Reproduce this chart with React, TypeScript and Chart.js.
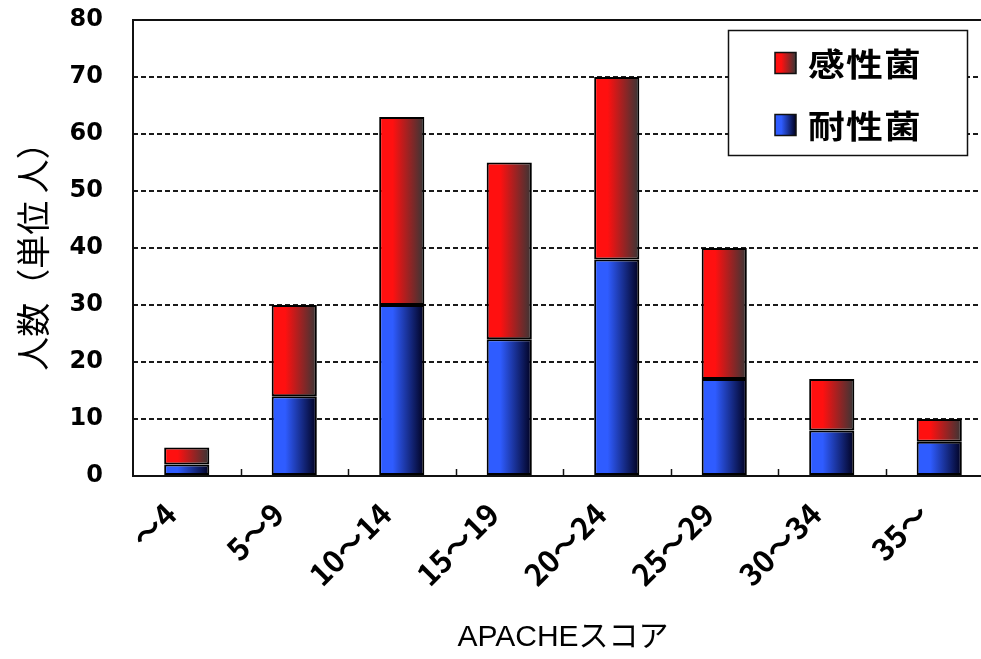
import React, { useEffect, useRef } from "react";
import { Chart, registerables } from "chart.js";

Chart.register(...registerables);

const categories = ["～4", "5～9", "10～14", "15～19", "20～24", "25～29", "30～34", "35～"];
const resistant = [2, 14, 30, 24, 38, 17, 8, 6]; // 耐性菌
const sensitive = [3, 16, 33, 31, 32, 23, 9, 4]; // 感性菌
const yTicks = [0, 10, 20, 30, 40, 50, 60, 70, 80];
const seriesNames = { sensitive: "感性菌", resistant: "耐性菌" };
const yTitle = "人数（単位 人）";
const xTitle = "APACHEスコア";

const BAR_PCT = 0.42;
const RED = ["#ff1010", "#363636"];
const BLUE = ["#2f5cff", "#00001e"];

function gradFor(colors: string[]) {
  return (ctx: any) => {
    const chart = ctx.chart;
    const xs = chart.scales && chart.scales.x;
    if (!xs || ctx.type !== "data" || !isFinite(xs.width)) return colors[0];
    const cx = xs.getPixelForValue(ctx.dataIndex);
    const w = (xs.width / categories.length) * BAR_PCT;
    const g = chart.ctx.createLinearGradient(cx - w / 2, 0, cx + w / 2, 0);
    g.addColorStop(0, colors[0]);
    g.addColorStop(0.3, colors[0]);
    g.addColorStop(1, colors[1]);
    return g;
  };
}

const framePlugin = {
  id: "frameAndLegend",
  afterDraw(chart: any) {
    const { ctx, chartArea } = chart;
    const { left, top, bottom } = chartArea;
    const W = chart.width;
    ctx.save();
    ctx.strokeStyle = "#111";
    ctx.lineWidth = 2;
    ctx.setLineDash([]);
    ctx.beginPath();
    ctx.moveTo(W, top);
    ctx.lineTo(left, top);
    ctx.lineTo(left, bottom);
    ctx.lineTo(W, bottom);
    ctx.stroke();
    const xs = chart.scales.x;
    ctx.lineWidth = 1.5;
    for (let i = 1; i < categories.length; i++) {
      const x = Math.round((xs.getPixelForValue(i - 1) + xs.getPixelForValue(i)) / 2) + 0.5;
      ctx.beginPath();
      ctx.moveTo(x, bottom);
      ctx.lineTo(x, bottom - 7);
      ctx.stroke();
    }
    // legend
    const lx = 728, ly = 30, lw = 239, lh = 125;
    ctx.fillStyle = "#fff";
    ctx.fillRect(lx, ly, lw, lh);
    ctx.strokeStyle = "#111";
    ctx.lineWidth = 1.5;
    ctx.strokeRect(lx + 0.5, ly + 0.5, lw, lh);
    const items = [
      { text: seriesNames.sensitive, colors: RED, cy: 63 },
      { text: seriesNames.resistant, colors: BLUE, cy: 125 },
    ];
    for (const it of items) {
      const sx = 775, sz = 21;
      const g = ctx.createLinearGradient(sx, 0, sx + sz, 0);
      g.addColorStop(0, it.colors[0]);
      g.addColorStop(0.3, it.colors[0]);
      g.addColorStop(1, it.colors[1]);
      ctx.fillStyle = g;
      ctx.fillRect(sx, it.cy - sz / 2, sz, sz);
      ctx.strokeStyle = "#111";
      ctx.lineWidth = 1.5;
      ctx.strokeRect(sx, it.cy - sz / 2, sz, sz);
      ctx.save();
      ctx.translate(808, it.cy + 1);
      ctx.scale(1.15, 1);
      ctx.fillStyle = "#000";
      ctx.font = "bold 32px 'Noto Sans CJK JP'";
      (ctx as any).letterSpacing = "1px";
      ctx.textBaseline = "middle";
      ctx.textAlign = "left";
      ctx.fillText(it.text, 0, 0);
      (ctx as any).letterSpacing = "0px";
      ctx.restore();
    }
    ctx.restore();
  },
};

export default function App() {
  const ref = useRef<HTMLCanvasElement>(null);
  useEffect(() => {
    const canvas = ref.current!;
    const chart = new Chart(canvas, {
      type: "bar",
      data: {
        labels: categories,
        datasets: [
          {
            label: seriesNames.resistant,
            data: resistant,
            backgroundColor: gradFor(BLUE),
            borderColor: "#000",
            borderWidth: 2,
            borderSkipped: false,
            barPercentage: BAR_PCT,
            categoryPercentage: 1,
          },
          {
            label: seriesNames.sensitive,
            data: sensitive,
            backgroundColor: gradFor(RED),
            borderColor: "#000",
            borderWidth: 2,
            borderSkipped: false,
            barPercentage: BAR_PCT,
            categoryPercentage: 1,
          },
        ],
      },
      options: {
        animation: false,
        responsive: false,
        devicePixelRatio: 1,
        layout: { padding: { top: 20, right: 7, left: 0, bottom: 0 } },
        plugins: { legend: { display: false }, tooltip: { enabled: false } },
        scales: {
          x: {
            stacked: true,
            grid: { display: false },
            border: { display: false },
            ticks: {
              autoSkip: false,
              maxRotation: 45,
              minRotation: 45,
              color: "#000",
              padding: 12,
              labelOffset: -16,
              font: { family: "'Noto Sans CJK JP'", size: 30, weight: "bold" },
            },
            title: {
              display: true,
              text: xTitle,
              color: "#000",
              font: { family: "'Liberation Sans', 'Noto Sans CJK JP'", size: 30 },
              padding: { top: 0, bottom: 3 },
            },
            afterFit: (s: any) => {
              s.height = 183;
              s.paddingLeft = 0;
              s.paddingRight = 0;
            },
          },
          y: {
            stacked: true,
            min: 0,
            max: 80,
            afterBuildTicks: (s: any) => {
              s.ticks = yTicks.map((v) => ({ value: v }));
            },
            grid: {
              drawTicks: false,
              color: (c: any) =>
                c.tick && (c.tick.value === 0 || c.tick.value === 80) ? "rgba(0,0,0,0)" : "#1a1a1a",
              lineWidth: 2,
            },
            border: { display: false, dash: [5, 3] },
            ticks: {
              color: "#000",
              padding: 30,
              font: { family: "'DejaVu Sans'", size: 24, weight: "bold" },
            },
            title: {
              display: true,
              text: yTitle,
              color: "#000",
              font: { family: "'Noto Sans CJK JP'", size: 34 },
              padding: { top: 13, bottom: 0 },
            },
            afterFit: (s: any) => {
              s.width = 133;
              s.paddingTop = 0;
              s.paddingBottom = 0;
            },
          },
        },
      },
      plugins: [framePlugin],
    });
    return () => chart.destroy();
  }, []);
  return (
    <div
      style={{
        position: "fixed",
        left: 0,
        top: 0,
        width: 981,
        height: 659,
        overflow: "hidden",
        background: "#fff",
      }}
    >
      <canvas ref={ref} width={1000} height={659} style={{ width: 1000, height: 659, display: "block" }} />
    </div>
  );
}
